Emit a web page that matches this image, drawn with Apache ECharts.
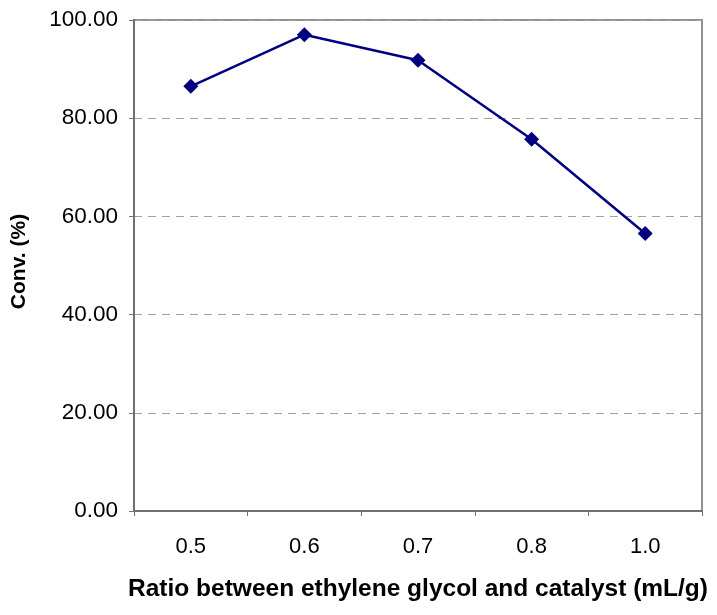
<!DOCTYPE html>
<html><head><meta charset="utf-8">
<script src="https://cdn.jsdelivr.net/npm/echarts@6/dist/echarts.min.js"></script>
<style>html,body{margin:0;padding:0;background:#fff}#c{width:717px;height:615px}</style>
</head><body><div id="c"></div>
<script>
const categories = ['0.5', '0.6', '0.7', '0.8', '1.0'];
const conversion = [86.5, 97.0, 91.8, 75.7, 56.5];
const yTicks = [0, 20, 40, 60, 80, 100];
const xTitle = 'Ratio between ethylene glycol and catalyst (mL/g)';
const yTitle = 'Conv. (%)';

const chart = echarts.init(document.getElementById('c'), null, {renderer: 'canvas'});
chart.setOption({
  animation: false,
  grid: {left: 134, right: 15, top: 20, bottom: 104, show: true, borderColor: '#909090', borderWidth: 2, backgroundColor: 'transparent'},
  xAxis: {
    type: 'category', data: categories, boundaryGap: true,
    axisLine: {lineStyle: {color: '#707070', width: 2}},
    axisTick: {show: true, inside: false, length: 5, lineStyle: {color: '#707070'}},
    axisLabel: {color: '#000', fontFamily: 'Liberation Sans', fontSize: 22, margin: 25},
    name: xTitle, nameLocation: 'middle', nameGap: 66,
    nameTextStyle: {color: '#000', fontFamily: 'Liberation Sans', fontWeight: 'bold', fontSize: 24.5}
  },
  yAxis: {
    type: 'value', min: yTicks[0], max: yTicks[yTicks.length - 1], interval: 20,
    axisLine: {show: true, lineStyle: {color: '#707070', width: 2}},
    axisTick: {show: true, length: 5, lineStyle: {color: '#707070'}},
    axisLabel: {color: '#000', fontFamily: 'Liberation Sans', fontSize: 22.5, margin: 16, formatter: v => v.toFixed(2)},
    splitLine: {show: true, lineStyle: {color: '#a0a0a0', type: [8, 6], width: 1}},
    name: yTitle, nameLocation: 'middle', nameGap: 104,
    nameTextStyle: {color: '#000', fontFamily: 'Liberation Sans', fontWeight: 'bold', fontSize: 21, padding: [0, 0, 0, 8]}
  },
  series: [{
    type: 'line', data: conversion,
    symbol: 'diamond', symbolSize: 15,
    lineStyle: {color: '#000080', width: 2.5},
    itemStyle: {color: '#000080'}
  }]
});
</script></body></html>
